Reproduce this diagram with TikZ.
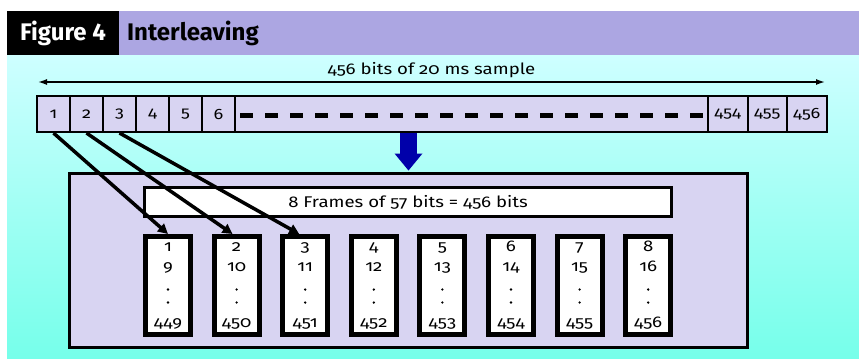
\documentclass[tikz,border=0pt]{standalone}
\usepackage{fontspec}
\setmainfont[Numbers=OldStyle,FakeStretch=1.2]{Fira Sans}
\newfontfamily\headfont{Fira Sans}
\usetikzlibrary{arrows.meta}

\definecolor{barpurple}{RGB}{172,166,226}
\definecolor{cellfill}{RGB}{216,212,242}
\definecolor{skytop}{RGB}{206,255,255}
\definecolor{skybot}{RGB}{118,255,234}
\definecolor{dropblue}{RGB}{0,0,170}

\begin{document}
\begin{tikzpicture}[x=1pt,y=-1pt]
    \tikzstyle{cell}=[draw,line width=2pt,fill=cellfill,minimum height=36pt,inner sep=0pt,font=\fontsize{15}{15}\selectfont]
    \tikzstyle{frame}=[draw,line width=5pt,fill=white,minimum width=45pt,minimum height=98pt,inner sep=0pt]
    \tikzstyle{colnum}=[anchor=base,inner sep=0pt,font=\fontsize{15.5}{15.5}\selectfont]
    \tikzstyle{link}=[line width=3.5pt,-{Triangle[length=10pt,width=10pt]}]

    \useasboundingbox (0,0) rectangle (859,360);

    % title bar and background
    \fill[barpurple] (119,11) rectangle (859,55);
    \node (figbox) [fill=black,text=white,minimum width=112pt,minimum height=44pt,inner sep=0pt,
        font=\headfont\fontsize{24}{24}\selectfont\bfseries] at (63,33) {Figure 4};
    \node (title) [anchor=west,inner sep=0pt,font=\headfont\fontsize{24}{24}\selectfont\bfseries] at (127,33) {Interleaving};
    \shade[top color=skytop,bottom color=skybot] (7,55) rectangle (859,358);

    % the 20 ms sample
    \coordinate (spanL) at (38,82);
    \coordinate (spanR) at (825,82);
    \draw[line width=1.5pt,{Latex[length=9pt,width=6pt]}-{Latex[length=9pt,width=6pt]}] (spanL) -- (spanR)
        node[midway,above=0pt,font=\fontsize{15.5}{15.5}\selectfont] {456 bits of 20 ms sample};

    \foreach \i in {1,...,6}
        \node (b\i) [cell,minimum width=33pt] at (20.5+33*\i,114) {\i};
    \node (gap) [cell,minimum width=473pt] at (471.5,114) {};
    \draw[line width=5pt,dash pattern=on 13pt off 12pt] (240,115) -- (704,115);
    \node (b454) [cell,minimum width=39.5pt] at (727.75,114) {454};
    \node (b455) [cell,minimum width=39.5pt] at (767.25,114) {455};
    \node (b456) [cell,minimum width=39.5pt] at (806.75,114) {456};

    % frames
    \node (store) [draw,line width=3pt,fill=cellfill,minimum width=678pt,minimum height=174pt] at (408.5,260.5) {};
    \node (head) [draw,line width=3pt,fill=white,minimum width=527pt,minimum height=29pt,
        font=\fontsize{15.5}{15.5}\selectfont] at (408,202) {8 Frames of 57 bits = 456 bits};

    \draw[dropblue,line width=17pt,-{Triangle[length=17pt,width=28pt,line width=0pt]}]
        (store.north |- gap.south) -- ([yshift=1.5pt]store.north);

    \foreach \i/\a/\b/\z in {1/1/9/449,2/2/10/450,3/3/11/451,4/4/12/452,5/5/13/453,6/6/14/454,7/7/15/455,8/8/16/456} {
        \node (f\i) [frame] at (99.4+68.6*\i,285.5) {};
        \node (t\i) [colnum] at ([yshift=34.5pt]f\i.center) {\a};
        \node (m\i) [colnum] at ([yshift=14.5pt]f\i.center) {\b};
        \node (z\i) [colnum] at ([yshift=-41.5pt]f\i.center) {\z};
        % the run of dots between
        \fill ([yshift=-4pt]f\i.center) circle (1.3pt);
        \fill ([yshift=-17pt]f\i.center) circle (1.3pt);
    }

    \draw[link] (b1.south) -- (f1.north);
    \draw[link] (b2.south) -- ([xshift=-4pt]f2.north);
    \draw[link] (b3.south) -- ([xshift=-6pt]f3.north);
\end{tikzpicture}
\end{document}
